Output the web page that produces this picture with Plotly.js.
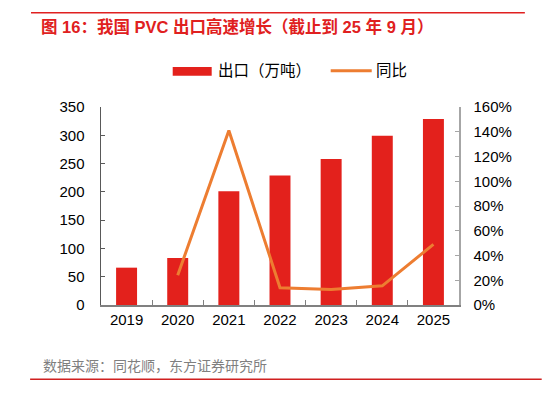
<!DOCTYPE html>
<html>
<head>
<meta charset="utf-8">
<script src="https://cdn.plot.ly/plotly-3.0.1.min.js"></script>
<style>html,body{margin:0;padding:0;background:#fff;}#chart{width:560px;height:398px;}</style>
</head>
<body>
<div id="chart"></div>
<script>
// Data
var years = ['2019', '2020', '2021', '2022', '2023', '2024', '2025'];
var exportVolume = [66, 83, 201, 229, 258, 299, 329]; // 万吨
var yoyGrowth = [null, 0.24, 1.41, 0.14, 0.125, 0.155, 0.49]; // 同比
var seriesNames = ['出口（万吨）', '同比'];
var titleText = '图 16：我国 PVC 出口高速增长（截止到 25 年 9 月）';
var sourceText = '数据来源：同花顺，东方证券研究所';

var RED = '#E3211C';
var ORANGE = '#ED7D31';
var CJK = '"Liberation Sans", Arial, "Noto Sans CJK SC", sans-serif';

var traces = [
  {
    type: 'bar', x: years, y: exportVolume, name: seriesNames[0],
    marker: {color: RED}, width: 0.41, yaxis: 'y', showlegend: false,
    hoverinfo: 'x+y'
  },
  {
    type: 'scatter', mode: 'lines', x: years, y: yoyGrowth, name: seriesNames[1],
    line: {color: ORANGE, width: 3}, yaxis: 'y2', showlegend: false,
    connectgaps: false
  }
];

var layout = {
  width: 560, height: 398,
  margin: {l: 101, r: 101, t: 107, b: 93, pad: 0},
  paper_bgcolor: '#fff', plot_bgcolor: '#fff',
  font: {family: CJK, color: '#000', size: 15},
  title: {
    text: '<b>' + titleText + '</b>',
    font: {family: CJK, size: 16.5, color: '#E02020'},
    xref: 'container', yref: 'container',
    x: 41 / 560, xanchor: 'left', y: 1 - 27 / 398, yanchor: 'middle'
  },
  xaxis: {
    type: 'category', showgrid: false, zeroline: false,
    showline: true, linecolor: '#808080', linewidth: 1.5,
    ticks: 'inside', tickson: 'boundaries', ticklen: 5, tickcolor: '#808080',
    tickfont: {size: 15, color: '#000'}, fixedrange: true
  },
  yaxis: {
    range: [0, 350], dtick: 50, showgrid: false, zeroline: false,
    showline: true, linecolor: '#595959', linewidth: 1.5,
    ticks: 'inside', ticklen: 4, tickcolor: '#595959',
    tickfont: {size: 15, color: '#000'}, ticklabelstandoff: 12
  },
  yaxis2: {
    range: [0, 1.6], dtick: 0.2, tickformat: '.0%', overlaying: 'y', side: 'right',
    showgrid: false, zeroline: false,
    showline: true, linecolor: '#A6A6A6', linewidth: 1.5,
    ticks: 'inside', ticklen: 4, tickcolor: '#A6A6A6',
    tickfont: {size: 15, color: '#000'}, ticklabelstandoff: 10
  },
  shapes: [
    {type: 'line', xref: 'paper', yref: 'paper', x0: -0.1955, x1: 1.184, y0: 1.476, y1: 1.476,
     line: {color: '#E02020', width: 1.5}},
    {type: 'line', xref: 'paper', yref: 'paper', x0: -0.198, x1: 1.231, y0: -0.375, y1: -0.375,
     line: {color: '#D02020', width: 1.5}},
    // legend icons
    {type: 'rect', xref: 'paper', yref: 'paper', x0: 0.2003, x1: 0.3092, y0: 1.158, y1: 1.202,
     fillcolor: RED, line: {width: 0}},
    {type: 'line', xref: 'paper', yref: 'paper', x0: 0.6416, x1: 0.7562, y0: 1.183, y1: 1.183,
     line: {color: ORANGE, width: 3}}
  ],
  annotations: [
    {xref: 'paper', yref: 'paper', x: 0.322, y: 1.182, xanchor: 'left', yanchor: 'middle',
     text: seriesNames[0], showarrow: false, font: {size: 15.5, color: '#000'}},
    {xref: 'paper', yref: 'paper', x: 0.763, y: 1.182, xanchor: 'left', yanchor: 'middle',
     text: seriesNames[1], showarrow: false, font: {size: 15.5, color: '#000'}},
    {xref: 'paper', yref: 'paper', x: -0.167, y: -0.308, xanchor: 'left', yanchor: 'middle',
     text: sourceText, showarrow: false, font: {size: 14, color: '#7F7F7F'}}
  ]
};

Plotly.newPlot('chart', traces, layout, {displayModeBar: false, staticPlot: true});
</script>
</body>
</html>
